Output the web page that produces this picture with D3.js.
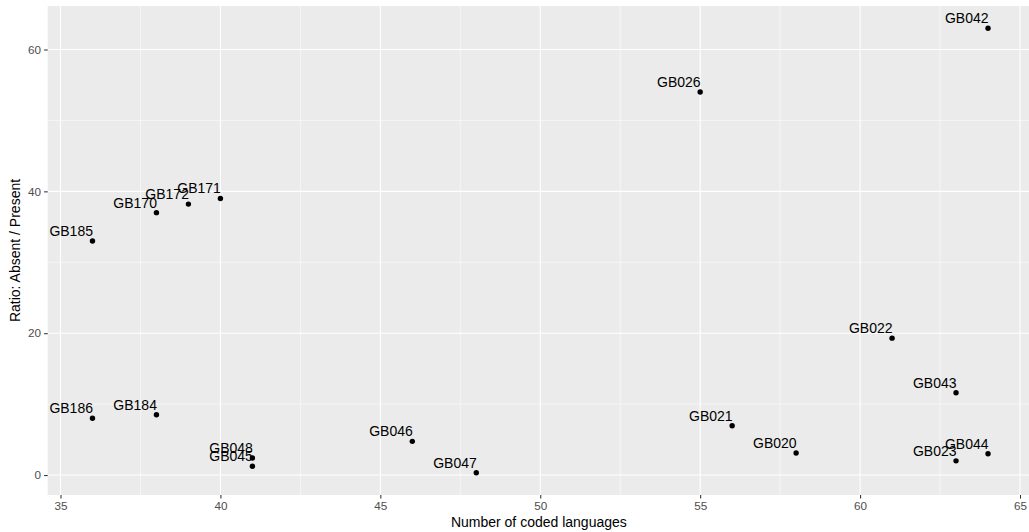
<!DOCTYPE html>
<html>
<head>
<meta charset="utf-8">
<script src="https://cdn.jsdelivr.net/npm/d3@7"></script>
<style>
  html, body { margin: 0; padding: 0; background: #fff; }
  svg { display: block; font-family: "Liberation Sans", Arial, Helvetica, sans-serif; }
</style>
</head>
<body>
<svg id="chart" width="1029" height="532"></svg>
<script>
// ---- data ----
const features = ["GB042","GB026","GB171","GB172","GB170","GB185","GB022","GB043","GB186","GB184","GB021","GB046","GB020","GB044","GB048","GB023","GB045","GB047"];
const nLanguages = [64, 55, 40, 39, 38, 36, 61, 63, 36, 38, 56, 46, 58, 64, 41, 63, 41, 48];
const ratios = [63.0, 54.0, 39.0, 38.2, 37.0, 33.0, 19.3, 11.6, 8.0, 8.5, 6.95, 4.75, 3.1, 3.0, 2.4, 2.0, 1.25, 0.32];
const xTicks = [35, 40, 45, 50, 55, 60, 65];
const yTicks = [0, 20, 40, 60];
const xMinor = [37.5, 42.5, 47.5, 52.5, 57.5, 62.5];
const yMinor = [10, 30, 50];
const xTitle = "Number of coded languages";
const yTitle = "Ratio: Absent / Present";

// ---- layout ----
const W = 1029, H = 532;
const panel = { left: 47.7, right: 1032.8, top: 6, bottom: 495 };

const svg = d3.select("#chart");

function expand(ext) {
  const d = (ext[1] - ext[0]) * 0.05;
  return [ext[0] - d, ext[1] + d];
}
const x = d3.scaleLinear().domain(expand(d3.extent(nLanguages))).range([panel.left, panel.right]);
const y = d3.scaleLinear().domain(expand(d3.extent(ratios))).range([panel.bottom, panel.top]);

// panel background
svg.append("rect")
  .attr("x", panel.left).attr("y", panel.top)
  .attr("width", panel.right - panel.left).attr("height", panel.bottom - panel.top)
  .attr("fill", "#EBEBEB");

const grid = svg.append("g");
// minor grid
grid.selectAll("line.xminor").data(xMinor).join("line")
  .attr("x1", d => x(d)).attr("x2", d => x(d))
  .attr("y1", panel.top).attr("y2", panel.bottom)
  .attr("stroke", "#fff").attr("stroke-width", 0.55);
grid.selectAll("line.yminor").data(yMinor).join("line")
  .attr("y1", d => y(d)).attr("y2", d => y(d))
  .attr("x1", panel.left).attr("x2", panel.right)
  .attr("stroke", "#fff").attr("stroke-width", 0.55);
// major grid
grid.selectAll("line.xmajor").data(xTicks).join("line")
  .attr("x1", d => x(d)).attr("x2", d => x(d))
  .attr("y1", panel.top).attr("y2", panel.bottom)
  .attr("stroke", "#fff").attr("stroke-width", 1.1);
grid.selectAll("line.ymajor").data(yTicks).join("line")
  .attr("y1", d => y(d)).attr("y2", d => y(d))
  .attr("x1", panel.left).attr("x2", panel.right)
  .attr("stroke", "#fff").attr("stroke-width", 1.1);

// axes
const xAxis = d3.axisBottom(x).tickValues(xTicks).tickSize(3.6).tickPadding(3.5).tickFormat(d3.format("d"));
const gx = svg.append("g").attr("transform", `translate(0,${panel.bottom})`).call(xAxis);
gx.select(".domain").remove();
gx.selectAll(".tick line").attr("stroke", "#333333").attr("stroke-width", 1.07);
gx.selectAll(".tick text").attr("fill", "#4D4D4D").attr("font-size", "11.7px")
  .attr("font-family", "Liberation Sans, Arial, sans-serif");

const yAxis = d3.axisLeft(y).tickValues(yTicks).tickSize(3.6).tickPadding(3).tickFormat(d3.format("d"));
const gy = svg.append("g").attr("transform", `translate(${panel.left},0)`).call(yAxis);
gy.select(".domain").remove();
gy.selectAll(".tick line").attr("stroke", "#333333").attr("stroke-width", 1.07);
gy.selectAll(".tick text").attr("fill", "#4D4D4D").attr("font-size", "11.7px")
  .attr("font-family", "Liberation Sans, Arial, sans-serif");

// axis titles
svg.append("text")
  .attr("x", (panel.left + 1029 + 3) / 2 - 1).attr("y", 527)
  .attr("text-anchor", "middle").attr("font-size", "14px").attr("fill", "#000")
  .text(xTitle);
svg.append("text")
  .attr("transform", `translate(20,${(panel.top + panel.bottom) / 2}) rotate(-90)`)
  .attr("text-anchor", "middle").attr("font-size", "14px").attr("fill", "#000")
  .text(yTitle);

// points and labels
const data = features.map((f, i) => ({ f, n: nLanguages[i], r: ratios[i] }));
svg.append("g").selectAll("circle").data(data).join("circle")
  .attr("cx", d => x(d.n)).attr("cy", d => y(d.r))
  .attr("r", 2.7).attr("fill", "#000");
svg.append("g").selectAll("text").data(data).join("text")
  .attr("x", d => x(d.n) + 0.5).attr("y", d => y(d.r) - 5)
  .attr("text-anchor", "end").attr("font-size", "14px").attr("fill", "#000")
  .text(d => d.f);
</script>
</body>
</html>
